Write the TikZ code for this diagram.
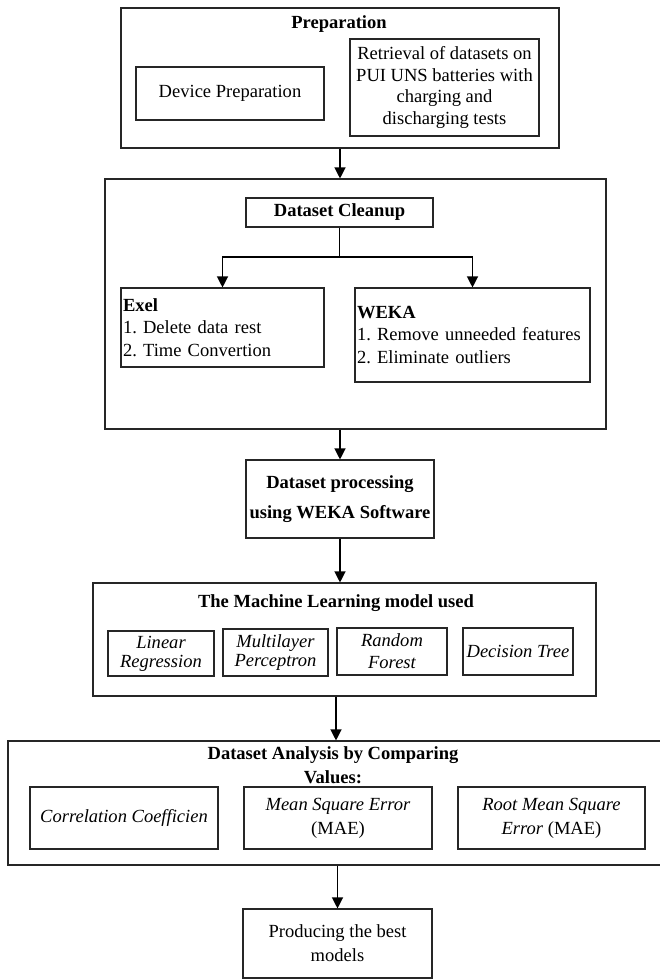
\documentclass[tikz,border=0pt]{standalone}
\usepackage{fontspec}
\setmainfont{Liberation Serif}
\usepackage{tikz}
\usetikzlibrary{arrows.meta}
\tikzset{every node/.style={rectangle, inner sep=0pt, align=center, font=\fontsize{18.6}{21.5}\selectfont}}
\tikzset{box/.style={draw=black!85, line width=1.1bp}}
\tikzset{heading/.style={font=\fontsize{18.6}{21.5}\selectfont\bfseries}}
\tikzset{flow/.style={draw=black, line width=1.2bp, -{Triangle[length=11bp,width=11bp]}}}

\begin{document}
\frenchspacing
\begin{tikzpicture}[x=1bp,y=-1bp]
\coordinate (TopLeft) at (0,0);
\coordinate (BottomRight) at (660,979);
\useasboundingbox (TopLeft) rectangle (BottomRight);

%%Preparation
\node[box, minimum width=438bp, minimum height=140bp] (prep) at (340,78) {};
\node[heading] (prepTitle) at (339,24) {Preparation};
\node[box, minimum width=188bp, minimum height=53bp] (device) at (230,93.5) {Device Preparation};
\node[box, minimum width=189bp, minimum height=97bp, font=\fontsize{18.6}{21.7}\selectfont] (retrieval) at (444.5,87.5)
  {Retrieval of datasets on\\PUI UNS batteries with\\charging and\\discharging tests};

%%Cleanup
\node[box, minimum width=501bp, minimum height=250bp] (clean) at (355.5,304) {};
\node[box, heading, minimum width=187bp, minimum height=29bp] (cleanTitle) at (339.5,212.5) {Dataset Cleanup};
\node[box, text width=199bp, inner xsep=2bp, minimum height=79bp, align=left, font=\fontsize{18.6}{22.5}\selectfont] (exel) at (222.5,327.5)
  {\textbf{Exel}\\1. Delete data rest\\2. Time Convertion};
\node[box, text width=231bp, inner xsep=2bp, minimum height=94bp, align=left, font=\fontsize{18.6}{22.5}\selectfont] (weka) at (472.5,335)
  {\textbf{WEKA}\\1. Remove unneeded features\\2. Eliminate outliers};
\coordinate (split) at (339.5,257);

%%Processing
\node[box, heading, minimum width=188bp, minimum height=78bp, font=\fontsize{18.6}{30}\selectfont\bfseries] (proc) at (340,499)
  {Dataset processing\\using WEKA Software};

%%Models
\node[box, minimum width=503bp, minimum height=113bp] (ml) at (344.5,639.5) {};
\node[heading] (mlTitle) at (336,603) {The Machine Learning model used};
\node[box, minimum width=106bp, minimum height=45bp, font=\fontsize{18.6}{19}\selectfont\itshape] (linear) at (161,653.5) {Linear\\Regression};
\node[box, line width=2bp, minimum width=105bp, minimum height=47bp, font=\fontsize{18.6}{19}\selectfont\itshape] (multi) at (275.5,652.5) {Multilayer\\Perceptron};
\node[box, minimum width=110bp, minimum height=47bp, font=\fontsize{18.6}{22}\selectfont\itshape] (forest) at (392,651.5) {Random\\Forest};
\node[box, minimum width=110bp, minimum height=47bp, font=\fontsize{18.6}{22}\selectfont\itshape] (tree) at (518,651.5) {Decision Tree};

%%Analysis
\node[box, minimum width=656bp, minimum height=124bp] (analysis) at (336,803) {};
\node[heading, font=\fontsize{18.6}{24}\selectfont\bfseries] (anaTitle) at (333,765) {Dataset Analysis by Comparing\\Values:};
\node[box, minimum width=188bp, minimum height=62bp, font=\fontsize{18.6}{24}\selectfont] (corr) at (124,818) {\textit{Correlation Coefficien}};
\node[box, minimum width=188bp, minimum height=62bp, font=\fontsize{18.6}{24}\selectfont] (mse) at (338,818) {\textit{Mean Square Error}\\(MAE)};
\node[box, minimum width=187bp, minimum height=62bp, font=\fontsize{18.6}{24}\selectfont] (rmse) at (551.5,818) {\textit{Root Mean Square}\\\textit{Error} (MAE)};

%%Result
\node[box, minimum width=189bp, minimum height=69bp, font=\fontsize{18.6}{24}\selectfont] (best) at (337.5,943.5) {Producing the best\\models};

%%Arrows
\draw[flow] (prep.south) -- (prep.south |- clean.north);
\draw[flow] (cleanTitle.south) -- (split) -| (exel.north);
\draw[flow] (split) -| (weka.north);
\draw[flow] (clean.south -| proc.north) -- (proc.north);
\draw[flow] (proc.south) -- (proc.south |- ml.north);
\draw[flow] (mlTitle.south |- ml.south) -- (mlTitle.south |- analysis.north);
\draw[flow] (best.north |- analysis.south) -- (best.north);

\end{tikzpicture}
\end{document}
